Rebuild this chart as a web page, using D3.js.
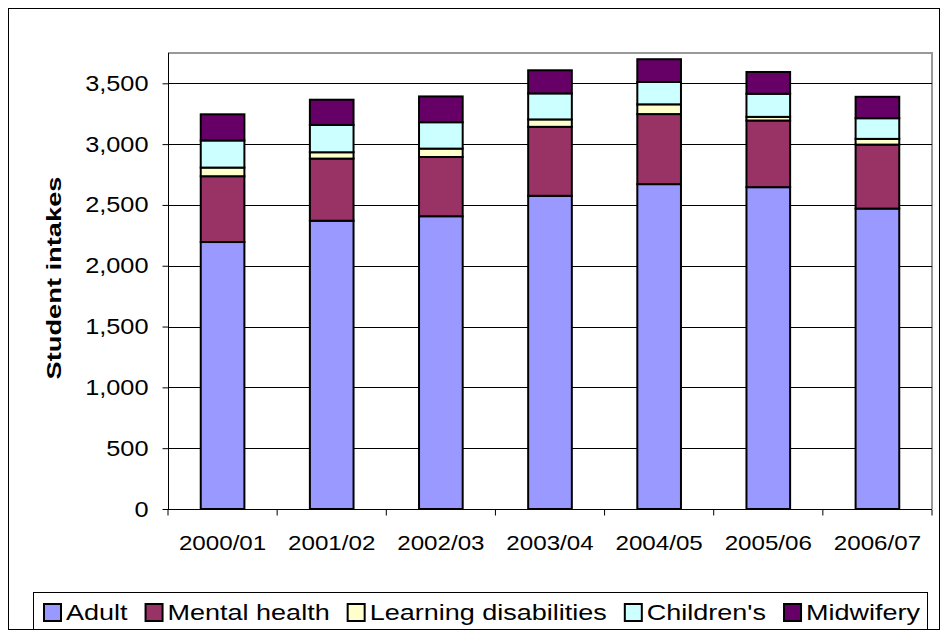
<!DOCTYPE html><html><head><meta charset="utf-8">
<script src="https://cdn.jsdelivr.net/npm/d3@7"></script>
<style>body{margin:0;background:#fff}text{font-family:"Liberation Sans",Arial,sans-serif}</style></head><body>
<svg id="c" width="942" height="633"></svg>
<script>
const categories=["2000/01","2001/02","2002/03","2003/04","2004/05","2005/06","2006/07"];
const seriesNames=["Adult","Mental health","Learning disabilities","Children's","Midwifery"];
const colors=["#9999FF","#993366","#FFFFCC","#CCFFFF","#660066"];
const adult=[2195,2370,2407,2575,2671,2646,2470];
const mental=[541,511,487,567,576,548,526];
const learning=[71,52,69,61,80,30,47];
const children=[223,225,217,214,184,190,170];
const midwifery=[215,207,212,190,187,179,176];
const yTicks=[0,500,1000,1500,2000,2500,3000,3500];
const vals=[adult,mental,learning,children,midwifery];
const data=categories.map((c,i)=>{const o={cat:c};seriesNames.forEach((s,j)=>o[s]=vals[j][i]);return o;});
const stack=d3.stack().keys(seriesNames)(data);
const svg=d3.select("#c");
const FF='"Liberation Sans",Arial,sans-serif';
function stretch(sel,f){sel.each(function(){const l=this.getComputedTextLength();d3.select(this).attr("textLength",l*f).attr("lengthAdjust","spacingAndGlyphs");});}
svg.append("rect").attr("x",8.5).attr("y",8.5).attr("width",931).attr("height",621).attr("fill","#fff").attr("stroke","#000");
const L=168,R=932,T=53,B=509;
const x=d3.scaleBand().domain(categories).range([L,R]).paddingInner(0.6).paddingOuter(0.3);
const y=d3.scaleLinear().range([B,83.3]).domain([0,3500]);
svg.append("path").attr("d",`M${L},${T}H${R}V${B}`).attr("fill","none").attr("stroke","#999").attr("stroke-width",2);
svg.append("g").selectAll("line").data(yTicks.slice(1)).join("line").attr("x1",L).attr("x2",R).attr("y1",d=>Math.round(y(d))+.5).attr("y2",d=>Math.round(y(d))+.5).attr("stroke","#000");
const ya=svg.append("g").attr("transform",`translate(${L+.5},0)`).call(d3.axisLeft(y).tickValues(yTicks).tickFormat(d3.format(",")).tickSize(6).tickPadding(14));
ya.select(".domain").attr("d",`M0,${B}V${T}`);
ya.selectAll("text").attr("font-size",22).attr("font-family",FF).attr("fill","#000");
stretch(ya.selectAll("text"),1.15);
const xa=svg.append("g").attr("transform",`translate(0,${B+.5})`).call(d3.axisBottom(x).tickSize(0).tickPadding(26));
xa.select(".domain").attr("d",`M${L},0H${R}`);
const step=x.step();
xa.selectAll(".b").data(d3.range(categories.length+1)).join("line").attr("x1",i=>L+i*step).attr("x2",i=>L+i*step).attr("y1",0).attr("y2",6).attr("stroke","#000");
xa.selectAll("text").attr("font-size",21).attr("font-family",FF).attr("fill","#000");
stretch(xa.selectAll("text"),1.15);
svg.append("g").selectAll("g").data(stack).join("g").attr("fill",(d,i)=>colors[i])
 .selectAll("rect").data(d=>d).join("rect").attr("x",d=>x(d.data.cat)).attr("width",x.bandwidth())
 .attr("y",d=>y(d[1])).attr("height",d=>y(d[0])-y(d[1])).attr("stroke","#000").attr("stroke-width",2);
const tt=svg.append("text").attr("transform",`translate(61,278) rotate(-90)`).attr("text-anchor","middle").attr("font-size",21).attr("font-weight","bold").attr("font-family",FF).text("Student intakes");
stretch(tt,203/tt.node().getComputedTextLength());
const lg=svg.append("g");
lg.append("rect").attr("x",33.5).attr("y",592.5).attr("width",894).attr("height",37).attr("fill","#fff").attr("stroke","#000");
const lgs=lg.selectAll("g").data(seriesNames).join("g");
lgs.append("rect").attr("y",604).attr("width",17).attr("height",17).attr("fill",(d,i)=>colors[i]).attr("stroke","#000").attr("stroke-width",2);
const lt=lgs.append("text").attr("y",620).attr("font-size",22.5).attr("font-family",FF).text(d=>d);
stretch(lt,1.2);
let lx=44;
lgs.each(function(){const g=d3.select(this);g.select("rect").attr("x",lx);const t=g.select("text").attr("x",lx+22);lx+=22+(+t.attr("textLength"))+18;});
</script></body></html>
